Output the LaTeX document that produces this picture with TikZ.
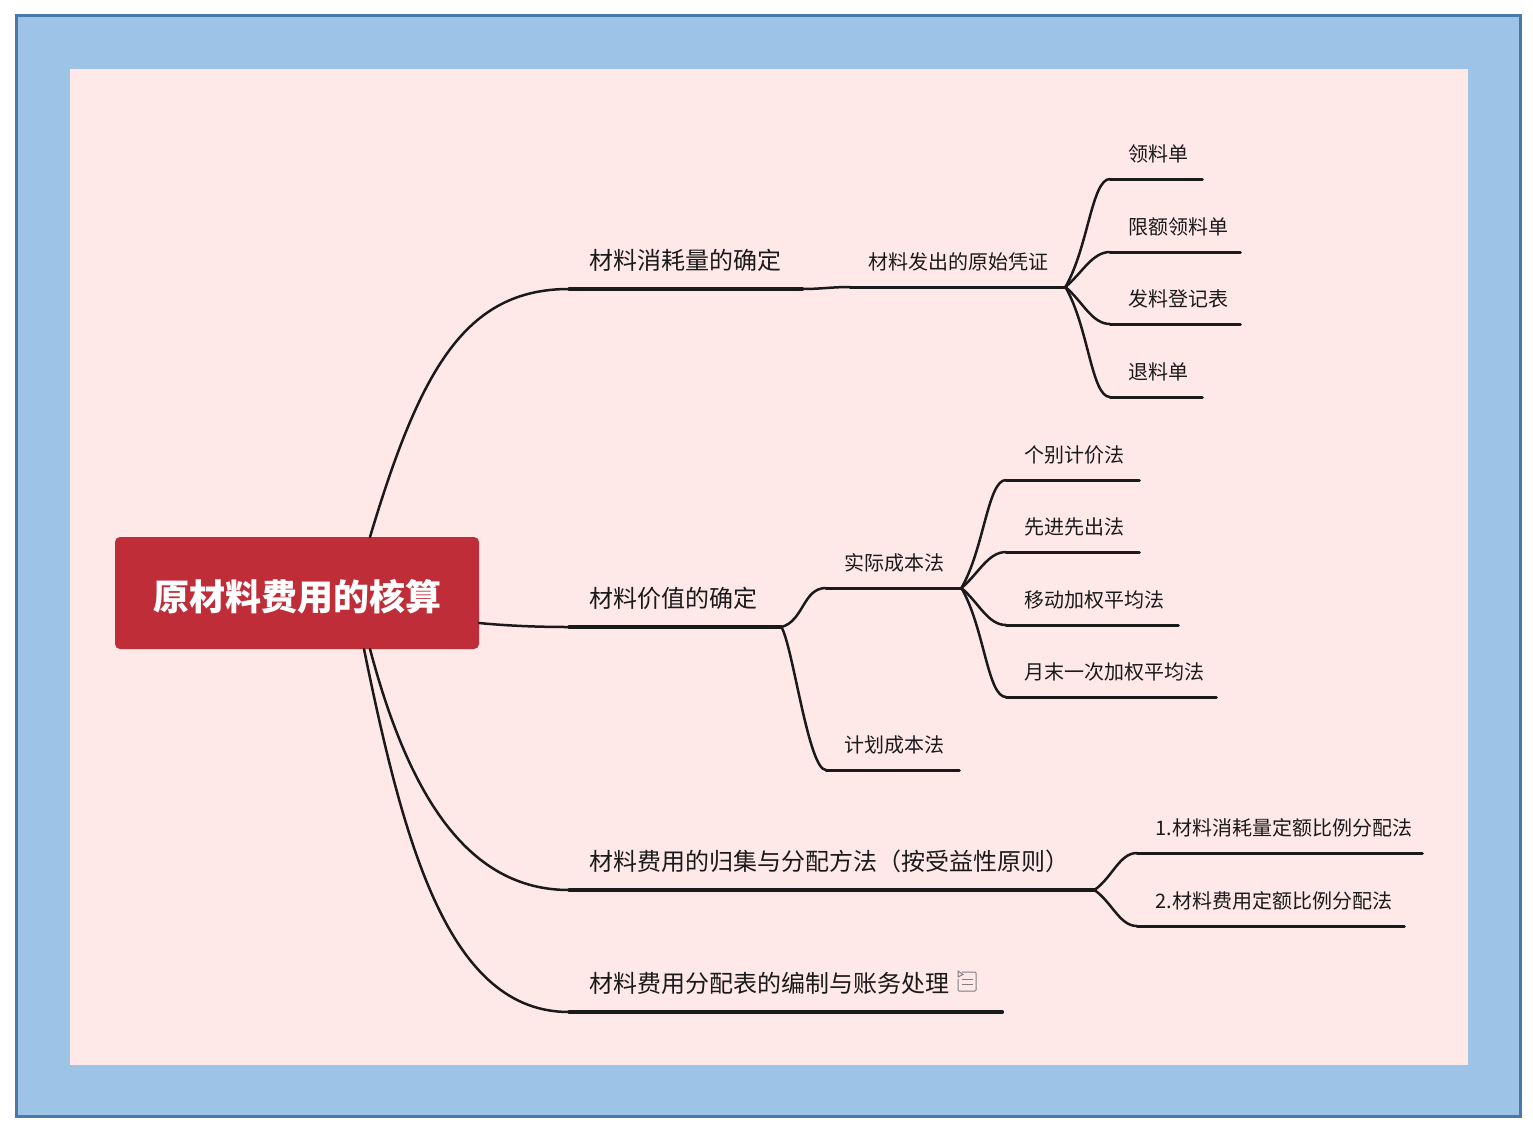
\documentclass[tikz,border=0pt]{standalone}
\usepackage{fontspec}
\setmainfont{Noto Sans CJK SC}
\usepackage{xcolor}
\definecolor{frameBlue}{HTML}{4A78A8}
\definecolor{skyBlue}{HTML}{9DC3E6}
\definecolor{paperPink}{HTML}{FFE8E8}
\definecolor{rootRed}{HTML}{BE2D38}
\definecolor{ink}{HTML}{1A1A1A}
\tikzset{
  rootbox/.style={draw=none, fill=rootRed, rounded corners=5pt, text=white, minimum width=364pt, minimum height=112pt,
    text height=36pt, text depth=2pt, font=\fontsize{36}{36}\selectfont\bfseries},
  topic/.style={anchor=south west, inner sep=0pt, align=left, text=ink, text width=#1, text height=20pt, text depth=19.5pt,
    font=\fontsize{24}{24}\selectfont, execute at begin node={\hspace*{20pt}}},
  subtopic/.style={anchor=south west, inner sep=0pt, align=left, text=ink, text width=#1, text height=16pt, text depth=17.4pt,
    font=\fontsize{20}{20}\selectfont, execute at begin node={\hspace*{18.6pt}}},
  link/.style={ink, line width=3.2pt, line cap=round},
  thin link/.style={ink, line width=3pt, line cap=round},
  curve/.style={ink, line width=2.5pt, line cap=round},
}
\begin{document}
\begin{tikzpicture}[x=1pt, y=-1pt]
  \useasboundingbox (0,0) rectangle (1533,1130);
  % outer frame and paper
  \draw[frameBlue, fill=skyBlue, line width=3pt] (16.5,15.5) rectangle (1520.5,1116.5);
  \fill[paperPink] (70,69) rectangle (1468,1065);
  % root
  \node[rootbox] (root) at (297,593) {原材料费用的核算};
  \coordinate (rootT) at (370,537);
  \coordinate (rootR) at (479,623);
  \coordinate (rootBa) at (370,649);
  \coordinate (rootBb) at (364,649);
  % main topics
  \node[topic=233pt] (usage) at (569,289) {材料消耗量的确定};
  \node[topic=212pt] (value) at (569,627) {材料价值的确定};
  \node[topic=525pt] (method) at (569,890) {材料费用的归集与分配方法（按受益性原则）};
  \node[topic=433pt] (sheet) at (569,1012) {材料费用分配表的编制与账务处理};
  % second level
  \node[subtopic=215pt] (voucher) at (850,287) {材料发出的原始凭证};
  \node[subtopic=135pt] (actual) at (826,588) {实际成本法};
  \node[subtopic=133pt] (plan) at (826,770) {计划成本法};
  % vouchers
  \node[subtopic=92pt] (pick) at (1110,179) {领料单};
  \node[subtopic=130pt] (quota) at (1110,252) {限额领料单};
  \node[subtopic=130pt] (issue) at (1110,324) {发料登记表};
  \node[subtopic=92pt] (back) at (1110,397) {退料单};
  % actual cost methods
  \node[subtopic=133pt] (each) at (1006,480) {个别计价法};
  \node[subtopic=133pt] (fifo) at (1006,552) {先进先出法};
  \node[subtopic=172pt] (moving) at (1006,625) {移动加权平均法};
  \node[subtopic=210pt] (monthly) at (1006,697) {月末一次加权平均法};
  % allocation methods
  \node[subtopic=285pt] (ratioA) at (1137,853) {1.材料消耗量定额比例分配法};
  \node[subtopic=267pt] (ratioB) at (1137,926) {2.材料费用定额比例分配法};
  % underlines
  \foreach \n in {usage,value,method,sheet}{
    \draw[link] (\n.south west) -- (\n.south east);
  }
  \foreach \n in {voucher,actual,plan,pick,quota,issue,back,each,fifo,moving,monthly,ratioA,ratioB}{
    \draw[thin link] (\n.south west) -- (\n.south east);
  }
  % from the root
  \draw[curve] (rootT) .. controls (420,370) and (465,289) .. (usage.south west);
  \draw[curve] (rootR) .. controls (510,626) and (540,627) .. (value.south west);
  \draw[curve] (rootBa) .. controls (410,800) and (470,890) .. (method.south west);
  \draw[curve] (rootBb) .. controls (405,850) and (450,1012) .. (sheet.south west);
  % between levels
  \draw[curve] (usage.south east) to[out=0, in=180] (voucher.south west);
  \foreach \n/\o/\l in {pick/60/0.4,quota/40/0.8,issue/-40/0.8,back/-60/0.4}{
    \draw[curve] (voucher.south east) to[out=\o, in=180, in looseness=\l] (\n.south west);
  }
  \draw[curve] (value.south east) to[out=15, in=180] (actual.south west);
  \draw[curve] (value.south east) to[out=-60, in=180, out looseness=0.4, in looseness=0.3] (plan.south west);
  \foreach \n/\o/\l in {each/60/0.4,fifo/40/0.8,moving/-40/0.8,monthly/-60/0.4}{
    \draw[curve] (actual.south east) to[out=\o, in=180, in looseness=\l] (\n.south west);
  }
  \foreach \n/\o in {ratioA/35,ratioB/-35}{
    \draw[curve] (method.south east) to[out=\o, in=180, in looseness=0.8] (\n.south west);
  }
  % note icon
  \draw[gray, line width=1pt, rounded corners=1pt] (962,972) -- (976,972) -- (976,991) -- (958,991) -- (958,979);
  \draw[gray, line width=1pt] (958,971) -- (963,974.5) -- (958,977) -- cycle;
  \draw[gray, line width=1pt] (962,979.5) -- (973,979.5) (962,984) -- (973,984);
\end{tikzpicture}
\end{document}
